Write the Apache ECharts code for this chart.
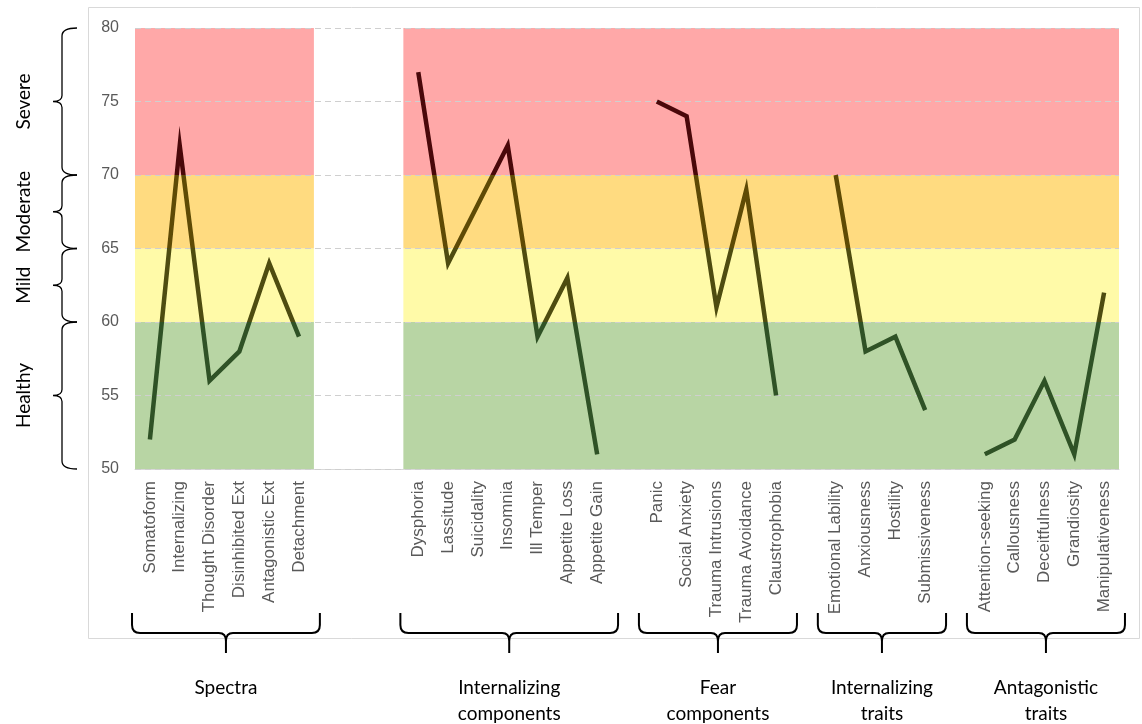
<!DOCTYPE html>
<html>
<head>
<meta charset="utf-8">
<script src="https://cdn.jsdelivr.net/npm/echarts@6/dist/echarts.min.js"></script>
<style>
html,body{margin:0;padding:0;background:#fff;}
#main{width:1142px;height:724px;}
</style>
</head>
<body>
<div id="main"></div>
<script>
// ---- data ----
const spectraCats = ['Somatoform', 'Internalizing', 'Thought Disorder', 'Disinhibited Ext', 'Antagonistic Ext', 'Detachment'];
const spectraVals = [52, 72, 56, 58, 64, 59];
const intCompCats = ['Dysphoria', 'Lassitude', 'Suicidality', 'Insomnia', 'Ill Temper', 'Appetite Loss', 'Appetite Gain'];
const intCompVals = [77, 64, 68, 72, 59, 63, 51];
const fearCats = ['Panic', 'Social Anxiety', 'Trauma Intrusions', 'Trauma Avoidance', 'Claustrophobia'];
const fearVals = [75, 74, 61, 69, 55];
const intTraitCats = ['Emotional Lability', 'Anxiousness', 'Hostility', 'Submissiveness'];
const intTraitVals = [70, 58, 59, 54];
const antTraitCats = ['Attention-seeking', 'Callousness', 'Deceitfulness', 'Grandiosity', 'Manipulativeness'];
const antTraitVals = [51, 52, 56, 51, 62];
const groupNames = ['Spectra', 'Internalizing\ncomponents', 'Fear\ncomponents', 'Internalizing\ntraits', 'Antagonistic\ntraits'];
const gapsBefore = [0, 3, 1, 1, 1];
const shadedGroupRuns = [[0, 0], [1, 4]];
const yMin = 50, yMax = 80, yStep = 5;
const bandNames = ['Healthy', 'Mild', 'Moderate', 'Severe'];
const bandLows = [50, 60, 65, 70];
const bandHighs = [60, 65, 70, 80];
const bandColors = ['#B8D5A4', '#FFFAA8', '#FFDB80', '#FFA8A8'];
const lineColors = ['#2F5226', '#4E4C10', '#5E4A05', '#4A080A'];

// ---- build ----
const groupCats = [spectraCats, intCompCats, fearCats, intTraitCats, antTraitCats];
const groupVals = [spectraVals, intCompVals, fearVals, intTraitVals, antTraitVals];
const categories = [];
const values = [];
const groupStart = [], groupEnd = [];
let gapId = 0;
groupCats.forEach((cats, g) => {
  for (let k = 0; k < gapsBefore[g]; k++) { categories.push('__gap' + (gapId++)); values.push(null); }
  groupStart.push(categories.length);
  cats.forEach((c, i) => { categories.push(c); values.push(groupVals[g][i]); });
  groupEnd.push(categories.length - 1);
});
const N = categories.length;

const bandData = [];
shadedGroupRuns.forEach(run => {
  bandLows.forEach((lo, b) => {
    bandData.push([groupStart[run[0]] - 0.5, groupEnd[run[1]] + 0.5, lo, bandHighs[b], b]);
  });
});

const chart = echarts.init(document.getElementById('main'), null, {renderer: 'canvas'});
const GRID = {left: 135, right: 23, top: 28, bottom: 255};
const AXIS_FONT = 'Liberation Sans';

chart.setOption({
  animation: false,
  backgroundColor: '#ffffff',
  grid: GRID,
  xAxis: [{
    type: 'category',
    data: categories,
    boundaryGap: true,
    axisLine: {show: true, lineStyle: {color: '#d9d9d9', width: 1}},
    axisTick: {show: false},
    splitLine: {show: false},
    axisLabel: {
      interval: 0, rotate: 90, margin: 12,
      color: '#595959', fontSize: 17, fontFamily: AXIS_FONT,
      formatter: v => v.indexOf('__gap') === 0 ? '' : v
    }
  }, {
    type: 'value', min: -0.5, max: N - 0.5, show: false
  }],
  yAxis: {
    type: 'value', min: yMin, max: yMax, interval: yStep, z: 3,
    axisLine: {show: false}, axisTick: {show: false},
    axisLabel: {color: '#595959', fontSize: 16, fontFamily: AXIS_FONT, margin: 16},
    splitLine: {show: true, lineStyle: {color: '#cfcfcf', type: [6, 4], width: 1}}
  },
  visualMap: {
    type: 'piecewise', show: false, dimension: 1, seriesIndex: 1,
    pieces: bandLows.map((lo, b) => (b === bandLows.length - 1 ? {gte: lo, lte: bandHighs[b] + 100, color: lineColors[b]} : {gte: lo, lt: bandHighs[b], color: lineColors[b]}))
  },
  series: [{
    type: 'custom', xAxisIndex: 1, yAxisIndex: 0, z: 1, silent: true,
    data: bandData,
    renderItem: (params, api) => {
      const p0 = api.coord([api.value(0), api.value(3)]);
      const p1 = api.coord([api.value(1), api.value(2)]);
      return {
        type: 'rect',
        shape: {x: p0[0], y: p0[1], width: p1[0] - p0[0], height: p1[1] - p0[1]},
        style: {fill: bandColors[api.value(4)]}
      };
    }
  }, {
    type: 'line', xAxisIndex: 0, yAxisIndex: 0, z: 5,
    data: values, connectNulls: false,
    symbol: 'none',
    lineStyle: {width: 4.5, join: 'miter', miterLimit: 10, cap: 'butt'}
  }]
});

// ---- decorations (braces & labels) derived from the axes ----
function px(i) { return chart.convertToPixel({xAxisIndex: 1}, i); }
function py(v) { return chart.convertToPixel({yAxisIndex: 0}, v); }
const w = px(1) - px(0);
const paths = [];
const texts = [{type: 'rect', z: -10, silent: true, shape: {x: 88.5, y: 7.5, width: 1051, height: 631},
    style: {fill: null, stroke: '#d9d9d9', lineWidth: 1}}];

// left braces
const xe = 77, xv = 62, xt = 53;
bandLows.forEach((lo, b) => {
  const yT = py(bandHighs[b]), yB = py(lo), ym = (yT + yB) / 2;
  const d = `M${xe},${yT} Q${xv},${yT} ${xv},${yT + 8} L${xv},${ym - 6} Q${xv},${ym} ${xt},${ym} ` +
            `Q${xv},${ym} ${xv},${ym + 6} L${xv},${yB - 8} Q${xv},${yB} ${xe},${yB}`;
  paths.push({type: 'path', shape: {pathData: d}, style: {fill: 'none', stroke: '#000', lineWidth: 1.3}});
  texts.push({type: 'text', x: 24, y: ym, rotation: Math.PI / 2, silent: true,
    style: {text: bandNames[b], fill: '#000', fontFamily: 'Lato', fontSize: 19, align: 'center', verticalAlign: 'middle'}});
});

// bottom braces
const yEnd = 613, yH = 633, yTip = 653;
groupNames.forEach((name, g) => {
  const xL = px(groupStart[g]) - 0.6 * w;
  const xR = px(groupEnd[g]) + 0.7 * w;
  const xm = (xL + xR) / 2;
  const d = `M${xL},${yEnd} L${xL},${yH - 8} Q${xL},${yH} ${xL + 8},${yH} L${xm - 7},${yH} Q${xm},${yH} ${xm},${yH + 8} L${xm},${yTip} ` +
            `M${xm},${yH + 8} Q${xm},${yH} ${xm + 7},${yH} L${xR - 8},${yH} Q${xR},${yH} ${xR},${yH - 8} L${xR},${yEnd}`;
  paths.push({type: 'path', shape: {pathData: d}, style: {fill: 'none', stroke: '#000', lineWidth: 2}});
  texts.push({type: 'text', x: xm, y: 675, silent: true,
    style: {text: name, fill: '#000', fontFamily: 'Lato', fontSize: 19, align: 'center', verticalAlign: 'top', lineHeight: 26}});
});

chart.setOption({
  graphic: texts,
  series: [{}, {}, {
    type: 'custom', coordinateSystem: 'none', silent: true, z: 10,
    data: [0],
    renderItem: () => ({type: 'group', children: paths})
  }]
});
</script>
</body>
</html>
